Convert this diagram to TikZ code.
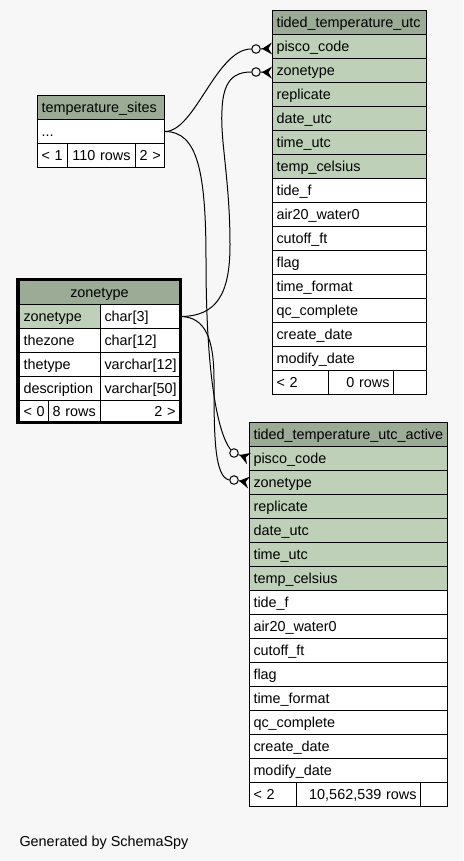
\documentclass[tikz,border=0pt]{standalone}
\usepackage{fontspec}
\setmainfont{Liberation Sans}
\usetikzlibrary{arrows.meta}

\definecolor{bgcol}{HTML}{F7F7F7}
\definecolor{hdrcol}{HTML}{9BAB96}
\definecolor{keycol}{HTML}{BED1B8}

\tikzset{
  cell/.style={draw, line width=1pt, fill=white, anchor=north west, minimum height=24pt,
    inner xsep=4pt, inner ysep=0pt, text height=10.3pt, text depth=0pt, align=left,
    font=\fontsize{14.4pt}{16pt}\selectfont},
  keycell/.style={cell, fill=keycol},
  hdrcell/.style={cell, fill=hdrcol},
  optdot/.style={circle, draw, line width=1pt, fill=bgcol, inner sep=0pt, minimum size=8.5pt},
  crow/.style={line width=1pt, -{Stealth[reversed, length=10pt, width=12pt, inset=3.5pt]}},
  fk/.style={line width=1pt},
}

\begin{document}
\begin{tikzpicture}[x=1pt,y=-1pt]
\fill[bgcol] (0,0) rectangle (463,861);
\useasboundingbox (0,0) rectangle (463,861);

% tided_temperature_utc
\node[hdrcell, text width=146pt] (utc) at (272,10) {tided\_temperature\_utc};
\foreach \t [count=\i] in {pisco\_code,zonetype,replicate,date\_utc,time\_utc,temp\_celsius}
  \node[keycell, text width=146pt] (utc\i) at (272,{10+24*\i}) {\t};
\foreach \t [count=\i from 7] in {tide\_f,air20\_water0,cutoff\_ft,flag,time\_format,qc\_complete,create\_date,modify\_date}
  \node[cell, text width=146pt] (utc\i) at (272,{10+24*\i}) {\t};
\node[cell, text width=48pt] (utcprev) at (272,370) {<~2};
\node[cell, text width=57pt, align=right] (utcrows) at (328,370) {0~rows};
\node[cell, text width=25pt] (utcnext) at (393,370) {};

% tided_temperature_utc_active
\node[hdrcell, text width=190pt] (act) at (249,422) {tided\_temperature\_utc\_active};
\foreach \t [count=\i] in {pisco\_code,zonetype,replicate,date\_utc,time\_utc,temp\_celsius}
  \node[keycell, text width=190pt] (act\i) at (249,{422+24*\i}) {\t};
\foreach \t [count=\i from 7] in {tide\_f,air20\_water0,cutoff\_ft,flag,time\_format,qc\_complete,create\_date,modify\_date}
  \node[cell, text width=190pt] (act\i) at (249,{422+24*\i}) {\t};
\node[cell, text width=39pt] (actprev) at (249,782) {<~2};
\node[cell, text width=116pt, align=right] (actrows) at (296,782) {10,562,539~rows};
\node[cell, text width=19pt] (actnext) at (420,782) {};

% temperature_sites
\node[hdrcell, text width=119pt] (sites) at (37,95) {temperature\_sites};
\node[cell, text width=119pt] (sites1) at (37,119) {...};
\node[cell, text width=22pt] (sitesprev) at (37,143) {<~1};
\node[cell, text width=60pt, align=center] (sitesrows) at (67,143) {110~rows};
\node[cell, text width=21pt] (sitesnext) at (135,143) {2~>};

% zonetype
\node[hdrcell, text width=152pt, align=center] (zt) at (19,280) {zonetype};
\node[keycell, text width=73pt] (ztkey1) at (19,304) {zonetype};
\node[cell, text width=71pt] (zttype1) at (100,304) {char[3]};
\node[cell, text width=73pt] (ztkey2) at (19,328) {thezone};
\node[cell, text width=71pt] (zttype2) at (100,328) {char[12]};
\node[cell, text width=73pt] (ztkey3) at (19,352) {thetype};
\node[cell, text width=71pt] (zttype3) at (100,352) {varchar[12]};
\node[cell, text width=73pt] (ztkey4) at (19,376) {description};
\node[cell, text width=71pt] (zttype4) at (100,376) {varchar[50]};
\node[cell, text width=21pt, minimum height=22pt] (ztprev) at (19,400) {<~0};
\node[cell, text width=44pt, minimum height=22pt] (ztrows) at (48,400) {8~rows};
\node[cell, text width=71pt, minimum height=22pt, align=right] (ztnext) at (100,400) {2~>};
\draw[line width=3pt] (17.5,279.5) rectangle (180.5,422.5);

% optional ends
\node[optdot] (o1) at (256,49) {};
\node[optdot] (o2) at (256,72) {};
\node[optdot] (o3) at (234,453) {};
\node[optdot] (o4) at (234,480) {};

% relationships
\draw[fk] (sites1.east) .. controls +(30,0) and +(-35,0) .. (o1.west);
\draw[fk] (sites1.east) .. controls +(32,0) and +(0,-90) .. (206,260)
  .. controls +(0,110) and +(-14,-18) .. (o3.north west);
\draw[fk] (zttype1.east) .. controls +(36,0) and +(0,50) .. (230,245)
  .. controls +(0,-65) and +(-2,30) .. (222,110)
  .. controls +(1,-30) and +(-17,0) .. (o2.west);
\draw[fk] (zttype1.east) .. controls +(26,0) and +(0,-40) .. (214,380)
  .. controls +(0,55) and +(-15,-3) .. (o4.west);

\draw[crow] (o1) -- ([yshift=-2pt]utc1.west);
\draw[crow] (o2) -- ([yshift=-2pt]utc2.west);
\draw[crow] (o3) -- (act1.west);
\draw[crow] (o4) -- (act2.west);

\node[anchor=base west, font=\fontsize{14.4pt}{16pt}\selectfont] (credit) at (16,846.5) {Generated by SchemaSpy};
\end{tikzpicture}
\end{document}
